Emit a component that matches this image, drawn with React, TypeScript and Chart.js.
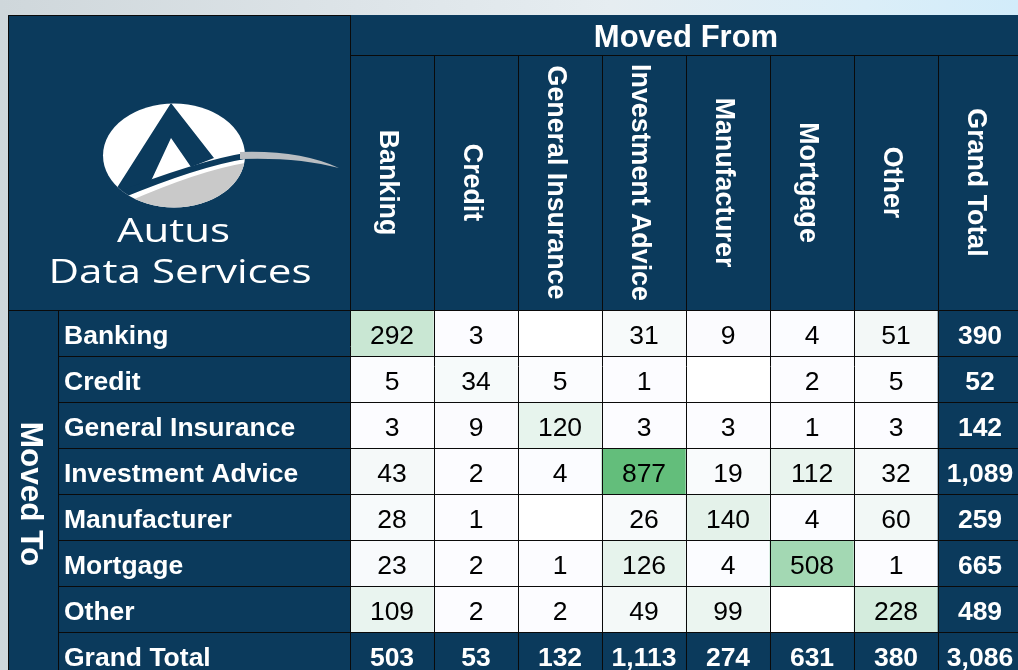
import React, { useEffect, useRef } from "react";
import { Chart, registerables } from "chart.js";

Chart.register(...registerables);

// ---------- data ----------
const categories = [
  "Banking",
  "Credit",
  "General Insurance",
  "Investment Advice",
  "Manufacturer",
  "Mortgage",
  "Other",
];
const totalLabel = "Grand Total";
const titleFrom = "Moved From";
const titleTo = "Moved To";
const logoLine1 = "Autus";
const logoLine2 = "Data Services";

// rows = "Moved To", columns = "Moved From"; null = empty cell
const toBanking = [292, 3, null, 31, 9, 4, 51];
const toCredit = [5, 34, 5, 1, null, 2, 5];
const toGeneralInsurance = [3, 9, 120, 3, 3, 1, 3];
const toInvestmentAdvice = [43, 2, 4, 877, 19, 112, 32];
const toManufacturer = [28, 1, null, 26, 140, 4, 60];
const toMortgage = [23, 2, 1, 126, 4, 508, 1];
const toOther = [109, 2, 2, 49, 99, null, 228];
const rowTotals = [390, 52, 142, 1089, 259, 665, 489];
const columnTotals = [503, 53, 132, 1113, 274, 631, 380];
const grandTotal = 3086;

const cellRows: (number | null)[][] = [
  toBanking,
  toCredit,
  toGeneralInsurance,
  toInvestmentAdvice,
  toManufacturer,
  toMortgage,
  toOther,
];

// ---------- styles ----------
const NAVY = "#0b3a5c";
const LOW = [252, 252, 255];
const HIGH = [99, 190, 123];
const FONT = '"Liberation Sans", Arial, Helvetica, sans-serif';
const LOGO_FONT = '"Open Sans", "Noto Sans", sans-serif';

const allValues = cellRows.flat().filter((v) => v !== null) as number[];
const minV = Math.min(...allValues);
const maxV = Math.max(...allValues);

function cellColor(v: number | null): string {
  if (v === null) return "#ffffff";
  const t = (v - minV) / (maxV - minV);
  const c = LOW.map((l, i) => Math.round(l + (HIGH[i] - l) * t));
  return `rgb(${c[0]},${c[1]},${c[2]})`;
}

const columnLabels = [...categories, totalLabel];
const rowLabels = [...categories, totalLabel];

function fmt(v: number | null): string {
  return v === null ? "" : v.toLocaleString("en-US");
}

function drawLogo(ctx: CanvasRenderingContext2D) {
  ctx.save();
  // ellipse
  ctx.beginPath();
  ctx.ellipse(174, 155.5, 71, 52, 0, 0, Math.PI * 2);
  ctx.fillStyle = "#ffffff";
  ctx.fill();
  ctx.save();
  ctx.clip();
  // grey lower part
  ctx.beginPath();
  ctx.moveTo(100, 212);
  ctx.lineTo(125, 203);
  ctx.quadraticCurveTo(205, 168, 252, 162);
  ctx.lineTo(252, 220);
  ctx.lineTo(100, 220);
  ctx.closePath();
  ctx.fillStyle = "#c9c9c9";
  ctx.fill();
  // navy "A"
  ctx.beginPath();
  ctx.moveTo(171, 103);
  ctx.lineTo(214, 158);
  ctx.lineTo(191, 167);
  ctx.lineTo(171, 138);
  ctx.lineTo(151, 181);
  ctx.lineTo(113, 194);
  ctx.closePath();
  ctx.fillStyle = NAVY;
  ctx.fill();
  // navy swoosh band
  ctx.beginPath();
  ctx.moveTo(112, 194);
  ctx.quadraticCurveTo(205, 158, 252, 152);
  ctx.lineTo(252, 158);
  ctx.quadraticCurveTo(205, 164, 120, 199);
  ctx.closePath();
  ctx.fill();
  ctx.restore();
  // grey tail
  ctx.beginPath();
  ctx.moveTo(240, 152);
  ctx.quadraticCurveTo(300, 150, 339, 168);
  ctx.quadraticCurveTo(298, 157, 240, 159);
  ctx.closePath();
  ctx.fillStyle = "#b9bdc1";
  ctx.fill();
  ctx.restore();

  // logo text
  const drawFit = (text: string, cx: number, base: number, size: number, width: number) => {
    ctx.save();
    ctx.font = `400 ${size}px ${LOGO_FONT}`;
    const w = ctx.measureText(text).width;
    ctx.translate(cx, base);
    ctx.scale(width / w, 1);
    ctx.fillStyle = "#ffffff";
    ctx.textAlign = "center";
    ctx.textBaseline = "alphabetic";
    ctx.fillText(text, 0, 0);
    ctx.restore();
  };
  drawFit(logoLine1, 173.5, 242, 33, 113);
  drawFit(logoLine2, 180, 283, 33, 263);
}

const tablePlugin = {
  id: "pivotTable",
  beforeDatasetsDraw(chart: any) {
    const { ctx, chartArea: a } = chart;
    ctx.save();
    ctx.fillStyle = NAVY;
    ctx.fillRect(8, 15, a.right - 8, a.bottom - 15);
    ctx.restore();
    drawLogo(ctx);
  },
  afterDatasetsDraw(chart: any) {
    const { ctx, chartArea: a, scales } = chart;
    const xs = scales.x;
    const ys = scales.y;
    const n = columnLabels.length;
    const bw = (a.right - a.left) / n;
    const titleBottom = 55;
    const tableLeft = 8;
    const tableTop = 15;
    const toColRight = 58;

    ctx.save();
    // ---- text in cells ----
    chart.data.datasets.forEach((ds: any, r: number) => {
      const meta = chart.getDatasetMeta(r);
      meta.data.forEach((el: any, c: number) => {
        const v = ds.values[c];
        if (v === null) return;
        const isTotal = r === rowLabels.length - 1 || c === n - 1;
        const top = Math.min(el.y, el.base);
        ctx.font = `${isTotal ? "bold " : ""}26.5px ${FONT}`;
        ctx.fillStyle = isTotal ? "#ffffff" : "#000000";
        ctx.textAlign = "center";
        ctx.textBaseline = "alphabetic";
        ctx.fillText(fmt(v), el.x, top + 34);
      });
    });

    // ---- row labels ----
    rowLabels.forEach((lab, r) => {
      const top = ys.getPixelForValue(r);
      ctx.font = `bold 26.5px ${FONT}`;
      ctx.fillStyle = "#ffffff";
      ctx.textAlign = "left";
      ctx.textBaseline = "alphabetic";
      ctx.fillText(lab, toColRight + 6, top + 34);
    });

    // ---- column header labels (rotated clockwise) ----
    const headMid = (titleBottom + a.top) / 2;
    columnLabels.forEach((lab, c) => {
      const cx = xs.getPixelForValue(c);
      ctx.save();
      ctx.translate(cx, headMid);
      ctx.rotate(Math.PI / 2);
      ctx.font = `bold 26.8px ${FONT}`;
      ctx.fillStyle = "#ffffff";
      ctx.textAlign = "center";
      ctx.textBaseline = "alphabetic";
      ctx.fillText(lab, 0, 12.5);
      ctx.restore();
    });

    // ---- titles ----
    ctx.font = `bold 31px ${FONT}`;
    ctx.fillStyle = "#ffffff";
    ctx.textAlign = "center";
    ctx.textBaseline = "alphabetic";
    ctx.fillText(titleFrom, (a.left + a.right) / 2, 47);

    ctx.save();
    ctx.translate((tableLeft + toColRight) / 2, (a.top + a.bottom) / 2);
    ctx.rotate(Math.PI / 2);
    ctx.font = `bold 31.5px ${FONT}`;
    ctx.textAlign = "center";
    ctx.textBaseline = "alphabetic";
    ctx.fillText(titleTo, 0, 12);
    ctx.restore();

    // ---- grid lines ----
    ctx.strokeStyle = "#0a0a0a";
    ctx.lineWidth = 1;
    const px = (v: number) => Math.round(v) + 0.5;
    ctx.beginPath();
    for (let c = 0; c <= n; c++) {
      const x = px(a.left + c * bw);
      ctx.moveTo(x, c === 0 ? tableTop : titleBottom);
      ctx.lineTo(x, a.bottom);
    }
    for (let r = 0; r <= rowLabels.length; r++) {
      const y = px(ys.getPixelForValue(r));
      ctx.moveTo(r === 0 ? tableLeft : toColRight, y);
      ctx.lineTo(a.right, y);
    }
    ctx.moveTo(a.left, px(titleBottom));
    ctx.lineTo(a.right, px(titleBottom));
    ctx.moveTo(px(toColRight), a.top);
    ctx.lineTo(px(toColRight), a.bottom);
    ctx.moveTo(px(tableLeft), a.bottom);
    ctx.lineTo(px(tableLeft), px(tableTop));
    ctx.lineTo(px(a.left), px(tableTop));
    ctx.stroke();
    ctx.restore();
  },
};

export default function App() {
  const canvasRef = useRef<HTMLCanvasElement | null>(null);

  useEffect(() => {
    const canvas = canvasRef.current;
    if (!canvas) return;
    const datasets = rowLabels.map((lab, r) => {
      const isTotalRow = r === rowLabels.length - 1;
      const values: (number | null)[] = isTotalRow
        ? [...columnTotals, grandTotal]
        : [...cellRows[r], rowTotals[r]];
      return {
        label: lab,
        values,
        data: columnLabels.map(() => 1),
        backgroundColor: values.map((v, c) =>
          isTotalRow || c === columnLabels.length - 1 ? NAVY : cellColor(v)
        ),
        borderWidth: 0,
        barPercentage: 1,
        categoryPercentage: 1,
        stack: "table",
      };
    });

    const chart = new Chart(canvas, {
      type: "bar",
      data: { labels: columnLabels, datasets: datasets as any },
      options: {
        responsive: false,
        animation: false,
        events: [],
        layout: { padding: { left: 350, right: 8, top: 310, bottom: 12 } },
        plugins: {
          legend: { display: false },
          tooltip: { enabled: false },
          title: { display: false },
        },
        scales: {
          x: { type: "category", stacked: true, display: false, offset: true },
          y: {
            type: "linear",
            stacked: true,
            display: false,
            min: 0,
            max: rowLabels.length,
            reverse: true,
          },
        },
      },
      plugins: [tablePlugin],
    });
    return () => chart.destroy();
  }, []);

  return (
    <div
      style={{
        position: "fixed",
        left: 0,
        top: 0,
        width: 1018,
        height: 670,
        overflow: "hidden",
        background:
          "linear-gradient(90deg, #cfd7db 0%, #dde4e8 35%, #e6edf1 60%, #dbeef8 85%, #d2ecfa 100%)",
      }}
    >
      <canvas
        ref={canvasRef}
        width={1030}
        height={690}
        style={{ position: "absolute", left: 0, top: 0, display: "block" }}
      />
    </div>
  );
}
